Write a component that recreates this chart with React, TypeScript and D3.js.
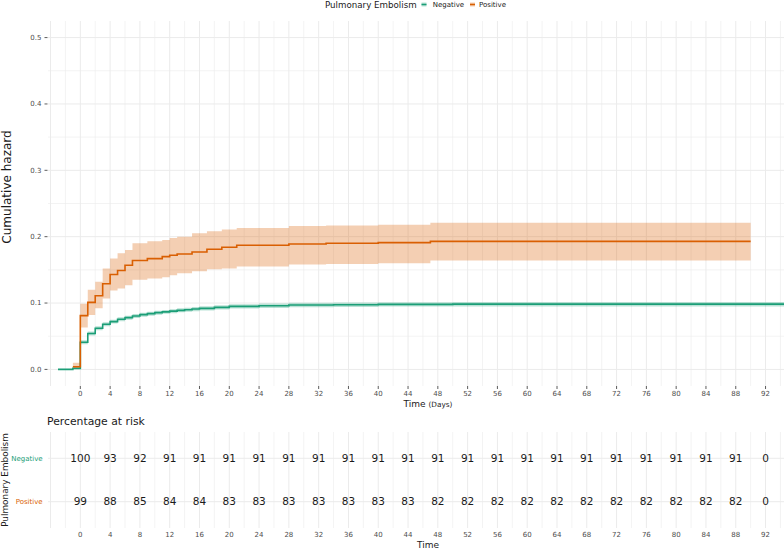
import React from 'react';
import * as d3 from 'd3';

const posTime = [-1, 0, 1, 2, 3, 4, 5, 6, 7, 9, 11, 12, 13, 15, 17, 19, 21, 28, 33, 40, 47, 90];
const posHaz = [0.004, 0.081, 0.101, 0.111, 0.129, 0.143, 0.149, 0.157, 0.164, 0.167, 0.170, 0.172, 0.174, 0.177, 0.181, 0.184, 0.187, 0.189, 0.190, 0.191, 0.193, 0.193];
const posHigh = [0.010, 0.099, 0.120, 0.132, 0.152, 0.167, 0.175, 0.180, 0.190, 0.193, 0.195, 0.198, 0.200, 0.205, 0.208, 0.211, 0.213, 0.216, 0.217, 0.218, 0.221, 0.221];
const posLow = [0.001, 0.063, 0.082, 0.092, 0.107, 0.119, 0.122, 0.127, 0.135, 0.137, 0.139, 0.142, 0.145, 0.148, 0.151, 0.152, 0.155, 0.158, 0.159, 0.160, 0.164, 0.164];

const negTime = [-3, -1, 0, 1, 2, 3, 4, 5, 6, 7, 8, 9, 10, 11, 12, 13, 14, 15, 16, 18, 20, 24, 28, 34, 40, 50, 98];
const negHaz = [0, 0.0015, 0.041, 0.054, 0.062, 0.068, 0.072, 0.0755, 0.078, 0.0805, 0.0825, 0.084, 0.0855, 0.0867, 0.0878, 0.089, 0.090, 0.091, 0.092, 0.0935, 0.095, 0.096, 0.097, 0.0975, 0.098, 0.0983, 0.0983];
const negHigh = [0, 0.003, 0.044, 0.057, 0.065, 0.071, 0.075, 0.0785, 0.081, 0.0835, 0.0855, 0.087, 0.0885, 0.0897, 0.0908, 0.092, 0.093, 0.0942, 0.0952, 0.0967, 0.0983, 0.0993, 0.1003, 0.1008, 0.1013, 0.1017, 0.1017];
const negLow = [0, 0.0005, 0.038, 0.051, 0.059, 0.065, 0.069, 0.0725, 0.075, 0.0775, 0.0795, 0.081, 0.0825, 0.0837, 0.0848, 0.086, 0.087, 0.0878, 0.0888, 0.0903, 0.0917, 0.0927, 0.0937, 0.0942, 0.0947, 0.0949, 0.0949];

const riskTimes = [0, 4, 8, 12, 16, 20, 24, 28, 32, 36, 40, 44, 48, 52, 56, 60, 64, 68, 72, 76, 80, 84, 88, 92];
const negRisk = [100, 93, 92, 91, 91, 91, 91, 91, 91, 91, 91, 91, 91, 91, 91, 91, 91, 91, 91, 91, 91, 91, 91, 0];
const posRisk = [99, 88, 85, 84, 84, 83, 83, 83, 83, 83, 83, 83, 82, 82, 82, 82, 82, 82, 82, 82, 82, 82, 82, 0];
const yTicks = [0, 0.1, 0.2, 0.3, 0.4, 0.5];
const groups = ['Negative', 'Positive'];

const GREEN = '#1b9e77';
const ORANGE = '#d95f02';
const FONT = 'DejaVu Sans';

export default function App() {
  const W = 784, H = 548;
  const x = d3.scaleLinear().domain([-4.34, 97.7]).range([48, 808]);
  const y = d3.scaleLinear().domain([-0.025, 0.525]).range([386, 21]);
  const panelTop = 21, panelBot = 386;
  const riskTop = 432, riskBot = 528;
  const rowY = d3.scalePoint().domain(groups).range([458.3, 501.7]);

  const mk = (t: number[], v: number[]) => t.map((tt, i) => ({ t: tt, v: v[i] }));
  const line = d3.line<{ t: number; v: number }>().x(d => x(d.t)).y(d => y(d.v)).curve(d3.curveStepAfter);
  const area = d3.area<{ t: number; lo: number; hi: number }>()
    .x(d => x(d.t)).y0(d => y(d.lo)).y1(d => y(d.hi)).curve(d3.curveStepAfter);
  const mkA = (t: number[], lo: number[], hi: number[]) => t.map((tt, i) => ({ t: tt, lo: lo[i], hi: hi[i] }));

  const vGrid = d3.range(-4, 100, 2);
  const hGrid = d3.range(0, 0.5001, 0.05);

  return (
    <div style={{ position: 'absolute', left: 0, top: 0 }}>
      <svg width={W} height={H} style={{ display: 'block', fontFamily: FONT }}>
        <rect x={0} y={0} width={W} height={H} fill="#fff" />
        <defs>
          <clipPath id="pclip"><rect x={48} y={panelTop} width={800} height={panelBot - panelTop} /></clipPath>
        </defs>
        {/* legend */}
        <text x={325} y={8} fontSize={8.7} fill="#1a1a1a">Pulmonary Embolism</text>
        <rect x={421.5} y={2.5} width={5} height={4} fill={GREEN} fillOpacity={0.3} />
        <line x1={421.5} x2={426.5} y1={4.5} y2={4.5} stroke={GREEN} strokeWidth={1.5} />
        <text x={432.7} y={7} fontSize={7} fill="#1a1a1a">Negative</text>
        <rect x={470} y={2.5} width={5} height={4} fill={ORANGE} fillOpacity={0.3} />
        <line x1={470} x2={475} y1={4.5} y2={4.5} stroke={ORANGE} strokeWidth={1.5} />
        <text x={479} y={7} fontSize={7} fill="#1a1a1a">Positive</text>

        {/* grid */}
        {hGrid.map((g, i) => (
          <line key={'h' + i} x1={48} x2={W} y1={y(g)} y2={y(g)} stroke="#ebebeb" strokeWidth={i % 2 === 0 ? 1 : 0.6} />
        ))}
        {vGrid.map((g, i) => (
          <line key={'v' + i} x1={x(g)} x2={x(g)} y1={panelTop} y2={panelBot} stroke="#ebebeb" strokeWidth={g % 4 === 0 ? 1 : 0.6} />
        ))}

        <g clipPath="url(#pclip)">
          <path d={area(mkA(negTime, negLow, negHigh)) || ''} fill={GREEN} fillOpacity={0.3} />
          <path d={area(mkA(posTime, posLow, posHigh)) || ''} fill={ORANGE} fillOpacity={0.3} />
          <path d={line(mk(negTime, negHaz)) || ''} fill="none" stroke={GREEN} strokeWidth={1.6} />
          <path d={line(mk(posTime, posHaz)) || ''} fill="none" stroke={ORANGE} strokeWidth={1.6} />
        </g>

        {/* y axis */}
        {yTicks.map(t => (
          <g key={'yt' + t}>
            <line x1={44.5} x2={47.5} y1={y(t)} y2={y(t)} stroke="#333" strokeWidth={0.8} />
            <text x={41.5} y={y(t)} dy="0.35em" textAnchor="end" fontSize={7} fill="#4d4d4d">{t.toFixed(1)}</text>
          </g>
        ))}
        <text transform={`translate(11,187) rotate(-90)`} textAnchor="middle" fontSize={12} fill="#1a1a1a">Cumulative hazard</text>

        {/* x axis */}
        {riskTimes.map(t => (
          <g key={'xt' + t}>
            <line x1={x(t)} x2={x(t)} y1={386} y2={389} stroke="#333" strokeWidth={0.8} />
            <text x={x(t)} y={394} dy="0.35em" textAnchor="middle" fontSize={7} fill="#4d4d4d">{t}</text>
          </g>
        ))}
        <text x={428} y={407} textAnchor="middle" fill="#1a1a1a">
          <tspan fontSize={9}>Time </tspan><tspan fontSize={7.3}>(Days)</tspan>
        </text>

        {/* risk table */}
        <text x={47} y={425} fontSize={10.8} fill="#1a1a1a">Percentage at risk</text>
        {vGrid.map((g, i) => (
          <line key={'rv' + i} x1={x(g)} x2={x(g)} y1={riskTop} y2={riskBot} stroke="#ebebeb" strokeWidth={g % 4 === 0 ? 1 : 0.6} />
        ))}
        {groups.map(g => (
          <line key={'rh' + g} x1={48} x2={W} y1={rowY(g)!} y2={rowY(g)!} stroke="#ebebeb" strokeWidth={1} />
        ))}
        {groups.map((g, gi) => (
          <text key={'rl' + g} x={42.7} y={rowY(g)!} dy="0.35em" textAnchor="end" fontSize={7} fill={gi === 0 ? GREEN : ORANGE}>{g}</text>
        ))}
        {riskTimes.map((t, i) => (
          <g key={'rn' + t}>
            <text x={x(t)} y={rowY('Negative')!} dy="0.36em" textAnchor="middle" fontSize={10.5} fill="#1a1a1a">{negRisk[i]}</text>
            <text x={x(t)} y={rowY('Positive')!} dy="0.36em" textAnchor="middle" fontSize={10.5} fill="#1a1a1a">{posRisk[i]}</text>
            <text x={x(t)} y={535} dy="0.35em" textAnchor="middle" fontSize={7} fill="#4d4d4d">{t}</text>
          </g>
        ))}
        <text transform={`translate(7.5,480) rotate(-90)`} textAnchor="middle" fontSize={8.9} fill="#1a1a1a">Pulmonary Embolism</text>
        <text x={428} y={547.5} textAnchor="middle" fontSize={9} fill="#1a1a1a">Time</text>
      </svg>
    </div>
  );
}
